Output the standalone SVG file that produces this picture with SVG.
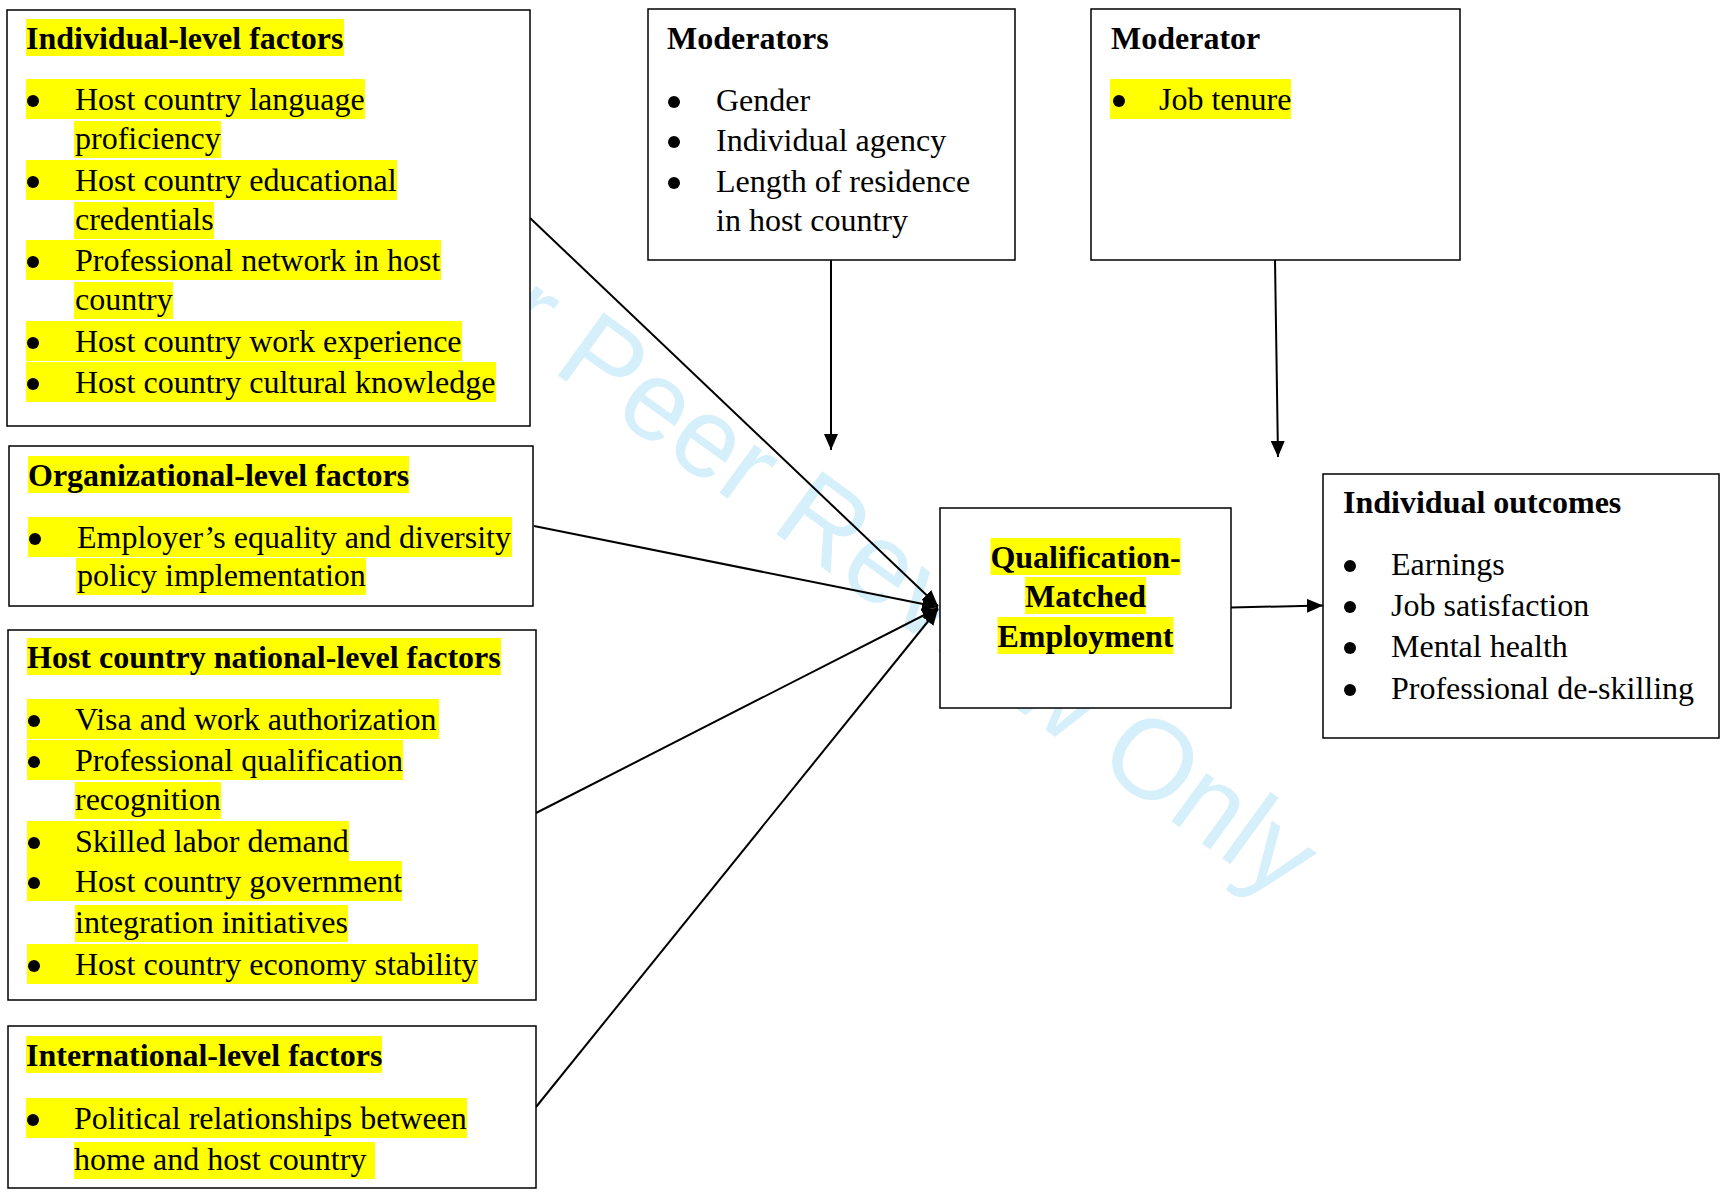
<svg xmlns="http://www.w3.org/2000/svg" width="1721" height="1193" viewBox="0 0 1721 1193">
<style>
.t{font-family:"Liberation Serif","Times New Roman",serif;font-size:32px;fill:#000}
.b{font-weight:bold}
.hl{fill:#ffff00}
.box{fill:#fff;stroke:#000;stroke-width:1.5}
.dot{fill:#000}
.mid{text-anchor:middle}
.conn{stroke:#000;stroke-width:2;fill:none;marker-end:url(#ah)}
.wm{font-family:"Liberation Sans",Arial,sans-serif;font-size:113px;fill:#d5effb}
</style>
<defs>
<marker id="ah" markerUnits="userSpaceOnUse" viewBox="0 0 16 14" refX="16" refY="7" markerWidth="16" markerHeight="14" orient="auto">
<path d="M0,0 L16,7 L0,14 Z" fill="#000"/>
</marker>
</defs>
<rect width="1721" height="1193" fill="#fff"/>
<text class="wm" transform="translate(388,252) rotate(36)">For Peer Review Only</text>

<g id="connectors">
<line class="conn" x1="530" y1="218" x2="938" y2="606"/>
<line class="conn" x1="534" y1="526" x2="938" y2="607"/>
<line class="conn" x1="536" y1="813" x2="938" y2="608"/>
<line class="conn" x1="536" y1="1107" x2="938" y2="609"/>
<line class="conn" x1="831" y1="260" x2="831" y2="450"/>
<line class="conn" x1="1275" y1="260" x2="1278" y2="457"/>
<line class="conn" x1="1231" y1="607.5" x2="1323" y2="605.5"/>
</g>

<g id="individual">
<rect class="box" x="7" y="10" width="523" height="416"/>
<rect class="hl" x="26" y="19" width="318" height="37"/>
<text class="t b" x="26" y="49">Individual-level factors</text>
<rect class="hl" x="26" y="79" width="339" height="40"/>
<rect class="hl" x="74" y="121" width="147" height="37"/>
<rect class="hl" x="26" y="160" width="371" height="40"/>
<rect class="hl" x="74" y="202" width="140" height="37"/>
<rect class="hl" x="26" y="240" width="415" height="40"/>
<rect class="hl" x="74" y="282" width="99" height="37"/>
<rect class="hl" x="26" y="321" width="436" height="40"/>
<rect class="hl" x="26" y="362" width="470" height="40"/>
<circle class="dot" cx="33" cy="101" r="6"/>
<circle class="dot" cx="33" cy="182" r="6"/>
<circle class="dot" cx="33" cy="262" r="6"/>
<circle class="dot" cx="33" cy="343" r="6"/>
<circle class="dot" cx="33" cy="384" r="6"/>
<text class="t" x="75" y="110">Host country language</text>
<text class="t" x="75" y="149">proficiency</text>
<text class="t" x="75" y="191">Host country educational</text>
<text class="t" x="75" y="230">credentials</text>
<text class="t" x="75" y="271">Professional network in host</text>
<text class="t" x="75" y="310">country</text>
<text class="t" x="75" y="352">Host country work experience</text>
<text class="t" x="75" y="393">Host country cultural knowledge</text>
</g>

<g id="organizational">
<rect class="box" x="9" y="446" width="524" height="160"/>
<rect class="hl" x="28" y="456" width="381" height="37"/>
<text class="t b" x="28" y="486">Organizational-level factors</text>
<rect class="hl" x="28" y="517" width="484" height="40"/>
<rect class="hl" x="76" y="558" width="290" height="37"/>
<circle class="dot" cx="35" cy="539" r="6"/>
<text class="t" x="77" y="548">Employer’s equality and diversity</text>
<text class="t" x="77" y="586">policy implementation</text>
</g>

<g id="host-national">
<rect class="box" x="8" y="630" width="528" height="370"/>
<rect class="hl" x="27" y="638" width="474" height="37"/>
<text class="t b" x="27" y="668">Host country national-level factors</text>
<rect class="hl" x="27" y="699" width="412" height="40"/>
<rect class="hl" x="27" y="740" width="376" height="40"/>
<rect class="hl" x="75" y="782" width="146" height="37"/>
<rect class="hl" x="27" y="821" width="322" height="40"/>
<rect class="hl" x="27" y="861" width="375" height="40"/>
<rect class="hl" x="75" y="905" width="273" height="37"/>
<rect class="hl" x="27" y="944" width="451" height="40"/>
<circle class="dot" cx="34" cy="721" r="6"/>
<circle class="dot" cx="34" cy="762" r="6"/>
<circle class="dot" cx="34" cy="843" r="6"/>
<circle class="dot" cx="34" cy="883" r="6"/>
<circle class="dot" cx="34" cy="966" r="6"/>
<text class="t" x="75" y="730">Visa and work authorization</text>
<text class="t" x="75" y="771">Professional qualification</text>
<text class="t" x="75" y="810">recognition</text>
<text class="t" x="75" y="852">Skilled labor demand</text>
<text class="t" x="75" y="892">Host country government</text>
<text class="t" x="75" y="933">integration initiatives</text>
<text class="t" x="75" y="975">Host country economy stability</text>
</g>

<g id="international">
<rect class="box" x="8" y="1026" width="528" height="162"/>
<rect class="hl" x="26" y="1036" width="356" height="37"/>
<text class="t b" x="26" y="1066">International-level factors</text>
<rect class="hl" x="26" y="1098" width="441" height="40"/>
<rect class="hl" x="74" y="1142" width="301" height="37"/>
<circle class="dot" cx="33" cy="1120" r="6"/>
<text class="t" x="74" y="1129">Political relationships between</text>
<text class="t" x="74" y="1170">home and host country</text>
</g>

<g id="moderators">
<rect class="box" x="648" y="9" width="367" height="251"/>
<text class="t b" x="667" y="49">Moderators</text>
<circle class="dot" cx="674" cy="102" r="6"/>
<circle class="dot" cx="674" cy="142" r="6"/>
<circle class="dot" cx="674" cy="183" r="6"/>
<text class="t" x="716" y="111">Gender</text>
<text class="t" x="716" y="151">Individual agency</text>
<text class="t" x="716" y="192">Length of residence</text>
<text class="t" x="716" y="231">in host country</text>
</g>

<g id="moderator">
<rect class="box" x="1091" y="9" width="369" height="251"/>
<text class="t b" x="1111" y="49">Moderator</text>
<rect class="hl" x="1110" y="79" width="181" height="40"/>
<circle class="dot" cx="1119" cy="101" r="6"/>
<text class="t" x="1159" y="110">Job tenure</text>
</g>

<g id="qme">
<rect class="box" x="940" y="508" width="291" height="200"/>
<rect class="hl" x="990.5" y="538" width="190" height="37"/>
<rect class="hl" x="1025" y="577" width="121" height="37"/>
<rect class="hl" x="997.5" y="617" width="176" height="37"/>
<text class="t b mid" x="1085.5" y="568">Qualification-</text>
<text class="t b mid" x="1085.5" y="607">Matched</text>
<text class="t b mid" x="1085.5" y="647">Employment</text>
</g>

<g id="outcomes">
<rect class="box" x="1323" y="474" width="396" height="264"/>
<text class="t b" x="1343" y="513">Individual outcomes</text>
<circle class="dot" cx="1350" cy="566" r="6"/>
<circle class="dot" cx="1350" cy="607" r="6"/>
<circle class="dot" cx="1350" cy="648" r="6"/>
<circle class="dot" cx="1350" cy="690" r="6"/>
<text class="t" x="1391" y="575">Earnings</text>
<text class="t" x="1391" y="616">Job satisfaction</text>
<text class="t" x="1391" y="657">Mental health</text>
<text class="t" x="1391" y="699">Professional de-skilling</text>
</g>
</svg>
